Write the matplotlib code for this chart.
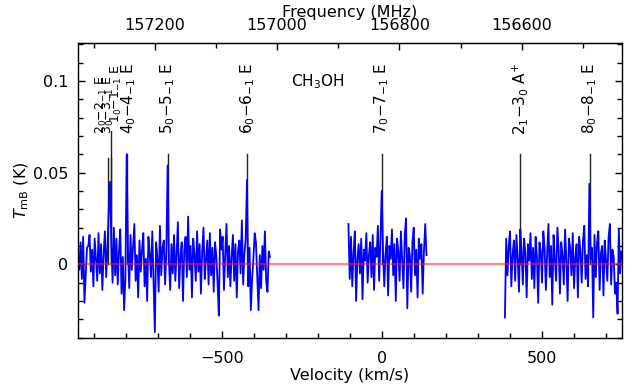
import numpy as np
import matplotlib
matplotlib.use('Agg')
import matplotlib.pyplot as plt
from matplotlib.ticker import MultipleLocator, FuncFormatter, FormatStrFormatter, FixedLocator

plt.rcParams['font.family'] = ['DejaVu Sans']
plt.rcParams['mathtext.default'] = 'regular'

C_KMS = 299792.458
REST_FREQ = 156828.5  # MHz, CH3OH 7_0-7_-1 E

# ---- spectrum data (brightness in mK), three observed segments ----
chan_width = 4.0  # km/s
seg1_v0 = -950.0
seg2_v0 = -105.0
seg3_v0 = 384.0

seg1_mK = [5, -3, 12, -8, 15, -21, -6, 9, 10, 16,
           -4, 8, -12, 14, 3, -9, 17, -5, 11, -14,
           6, 18, -7, 9, 30, 45, 12, -10, 20, -6,
           14, -11, 7, 19, -16, 4, -25, -8, 60, 9,
           -13, 16, -3, 10, 22, -9, 5, -18, 13, -4,
           8, 17, -12, 3, -20, 15, 6, -7, 18, -10,
           -37, 12, 4, -15, 21, -6, 9, 13, -11, 7,
           54, 2, -14, 11, -5, 16, -9, 6, 23, -13,
           4, 12, -20, 8, 15, -7, 26, -3, 10, -18,
           14, 5, -9, 18, -4, 11, -16, 7, 20, -8,
           3, 13, -11, 17, -6, 9, -15, 12, 5, -10,
           -28, 19, 8, 15, -14, 6, 22, -7, 10, -12,
           4, 16, -9, 11, -18, 7, 13, -5, 24, -11,
           6, 14, 46, -12, 9, -25, -8, 3, 17, 12,
           -6, -25, 5, -13, 10, -3, 18, -9, -15, 7, 4]

seg2_mK = [22, -8, 15, -12, 6, 18, -20, 3, 11, -5,
           14, -19, 8, 2, 17, -10, 5, 12, -7, 16,
           -14, 9, 4, 21, -9, 13, 40, 8, -12, 6,
           15, -17, 10, 3, 19, -6, 11, -20, 14, 7,
           -9, 18, 2, -13, 16, 25, -24, 9, 5, -15,
           12, 20, -6, 8, -18, 14, 3, 11, -16, 7,
           22, 5]

seg3_mK = [-29, 14, -6, 10, 18, -12, 5, 13, -9, 16,
           3, -15, 19, 8, -11, 14, 6, -18, 11, 2,
           17, -8, 9, -13, 15, 4, -21, 12, 7, -10,
           18, 9, -14, 6, 22, -7, 10, -22, 16, 3,
           -9, 20, 8, -16, 12, 5, -11, 19, 2, -20,
           14, 9, -6, 17, -13, 4, 11, -18, 15, 7,
           -10, 13, 21, -8, 5, -12, 44, 3, 9, -29,
           16, -7, 12, 18, -14, 6, 10, -17, 13, 2,
           -9, 15, 22, -11, 8, 4, -16, -10, -27, 19,
           -5, 7]

# ---- line identifications ----
line_labels = [r'$2_0{-}2_{-1}$ E', r'$3_0{-}3_{-1}$ E', r'$1_0{-}1_{-1}$ E',
               r'$4_0{-}4_{-1}$ E', r'$5_0{-}5_{-1}$ E', r'$6_0{-}6_{-1}$ E',
               r'$7_0{-}7_{-1}$ E', r'$2_1{-}3_0$ A$^{+}$', r'$8_0{-}8_{-1}$ E']
line_freq = [157276.0, 157272.3, 157270.8, 157246.1, 157179.0,
             157048.6, 156828.5, 156602.4, 156488.9]  # MHz

freq_ticks = [157200, 157000, 156800, 156600]

# styles for the markers / labels
line_top = [0.058, 0.0725, 0.058, 0.060, 0.060, 0.060, 0.060, 0.060, 0.060]
label_top = [0.103, 0.103, 0.109, 0.110, 0.110, 0.110, 0.110, 0.110, 0.110]
label_dx = [-22, -8, 17, 5, 0, 0, 0, 0, 0]
label_size = [9, 9, 9, 11, 11, 11, 11, 11, 11]


def v2f(v):
    return REST_FREQ * (1 - np.asarray(v, dtype=float) / C_KMS)


def f2v(f):
    return C_KMS * (1 - np.asarray(f, dtype=float) / REST_FREQ)


fig = plt.figure(figsize=(6.37, 3.90), dpi=100)
ax = fig.add_axes([0.1225, 0.1333, 0.854, 0.7564])

# marker lines
line_vel = f2v(line_freq)
for v, top in zip(line_vel, line_top):
    ax.plot([v, v], [0, top], color='#222222', lw=1.0, zorder=1)

# spectrum
for v0, seg in [(seg1_v0, seg1_mK), (seg2_v0, seg2_mK), (seg3_v0, seg3_mK)]:
    vals = np.array(seg, dtype=float) / 1000.0
    vel = v0 + chan_width * np.arange(len(vals))
    ax.plot(vel, vals, color='#0000ff', lw=1.3, zorder=2)

ax.axhline(0, color='#ff2020', alpha=0.55, lw=1.6, zorder=3)

for lab, v, top, dx, fs in zip(line_labels, line_vel, label_top, label_dx, label_size):
    ax.text(v + dx, top, lab, rotation=90, ha='center', va='top', fontsize=fs, zorder=4)

ax.text(-200, 0.0998, r'CH$_3$OH', ha='center', va='center', fontsize=11)

ax.set_xlim(-950, 750)
ax.set_ylim(-0.0402, 0.1207)
ax.xaxis.set_major_locator(MultipleLocator(500))
ax.xaxis.set_minor_locator(MultipleLocator(100))
ax.yaxis.set_major_locator(MultipleLocator(0.05))
ax.yaxis.set_minor_locator(MultipleLocator(0.01))
ax.yaxis.set_major_formatter(FuncFormatter(lambda y, p: '0' if abs(y) < 1e-9 else f'{y:g}'))

ax.tick_params(axis='both', which='both', direction='in', top=False, right=True, width=1.0, labelsize=11.5)
ax.tick_params(axis='both', which='major', length=5)
ax.tick_params(axis='both', which='minor', length=3.5)
ax.tick_params(axis='x', which='major', pad=9)
ax.tick_params(axis='y', which='major', pad=7)

ax.set_xlabel('Velocity (km/s)', fontsize=11.5, labelpad=2)
ax.set_ylabel(r'$\mathit{T}_{mB}$ (K)', fontsize=11.5, labelpad=1)

sec = ax.secondary_xaxis('top', functions=(v2f, f2v))
sec.xaxis.set_major_locator(FixedLocator(freq_ticks))
sec.xaxis.set_minor_locator(MultipleLocator(100))
sec.xaxis.set_major_formatter(FormatStrFormatter('%d'))
sec.tick_params(axis='x', which='both', direction='in', width=1.0, labelsize=11.5)
sec.tick_params(axis='x', which='major', length=5, pad=7)
sec.tick_params(axis='x', which='minor', length=3.5)
sec.set_xlabel('Frequency (MHz)', fontsize=11.5, labelpad=1)

for s in ax.spines.values():
    s.set_linewidth(1.0)

fig.savefig('out.png', dpi=100)
